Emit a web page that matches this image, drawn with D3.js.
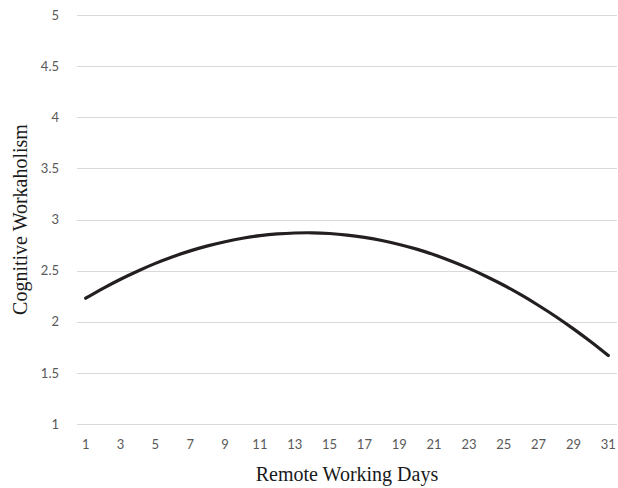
<!DOCTYPE html>
<html>
<head>
<meta charset="utf-8">
<script src="https://cdn.jsdelivr.net/npm/d3@7"></script>
<style>
  html, body { margin: 0; padding: 0; background: #fff; }
  svg { display: block; }
</style>
</head>
<body>
<div id="chart"></div>
<script>
const days = [1,2,3,4,5,6,7,8,9,10,11,12,13,14,15,16,17,18,19,20,21,22,23,24,25,26,27,28,29,30,31];
const workaholism = [2.230,2.327,2.416,2.497,2.571,2.636,2.693,2.742,2.783,2.817,2.842,2.859,2.868,2.870,2.863,2.848,2.825,2.795,2.756,2.710,2.655,2.592,2.522,2.443,2.357,2.262,2.159,2.049,1.930,1.804,1.669];
const yTicks = [1,1.5,2,2.5,3,3.5,4,4.5,5];
const xTickLabels = [1,3,5,7,9,11,13,15,17,19,21,23,25,27,29,31];
const xTitle = "Remote Working Days";
const yTitle = "Cognitive Workaholism";

const W = 618, H = 488;
const m = { left: 77, right: 1, top: 15, bottom: 64 };

const svg = d3.select("#chart").append("svg").attr("width", W).attr("height", H);

const x = d3.scaleBand().domain(days).range([m.left, W - m.right]);
const y = d3.scaleLinear().domain([1, 5]).range([H - m.bottom, m.top]);

// gridlines
svg.append("g").selectAll("line").data(yTicks).join("line")
  .attr("x1", m.left).attr("x2", W - m.right)
  .attr("y1", d => Math.round(y(d)) + 0.5).attr("y2", d => Math.round(y(d)) + 0.5)
  .attr("stroke", "#d9d9d9").attr("stroke-width", 1);

// y axis labels
const yAxis = d3.axisLeft(y).tickValues(yTicks).tickSize(0).tickPadding(0).tickFormat(d3.format("~g"));
const gy = svg.append("g").attr("transform", `translate(${m.left - 18},0)`).call(yAxis);
gy.select(".domain").remove();
gy.selectAll("text").attr("fill", "#595959").style("font-family", "Lato, 'Open Sans', sans-serif").style("font-size", "13px");

// x axis labels
const xAxis = d3.axisBottom(x).tickValues(xTickLabels).tickSize(0).tickPadding(0);
const gx = svg.append("g").attr("transform", `translate(0,${H - m.bottom + 16})`).call(xAxis);
gx.select(".domain").remove();
gx.selectAll("text").attr("fill", "#595959").style("font-family", "Lato, 'Open Sans', sans-serif").style("font-size", "13px");

// line
const line = d3.line()
  .x((d, i) => x(days[i]) + x.bandwidth() / 2)
  .y(d => y(d))
  .curve(d3.curveCatmullRom);
svg.append("path").datum(workaholism)
  .attr("d", line)
  .attr("fill", "none")
  .attr("stroke", "#231f20")
  .attr("stroke-width", 3.2)
  .attr("stroke-linecap", "round");

// titles
svg.append("text")
  .attr("x", (m.left + W - m.right) / 2).attr("y", 481)
  .attr("text-anchor", "middle")
  .style("font-family", "'Liberation Serif', 'Times New Roman', serif")
  .style("font-size", "20px").attr("fill", "#1a1a1a")
  .text(xTitle);

svg.append("text")
  .attr("transform", `translate(27,${(m.top + H - m.bottom) / 2}) rotate(-90)`)
  .attr("text-anchor", "middle")
  .style("font-family", "'Liberation Serif', 'Times New Roman', serif")
  .style("font-size", "20px").attr("fill", "#1a1a1a")
  .text(yTitle);
</script>
</body>
</html>
